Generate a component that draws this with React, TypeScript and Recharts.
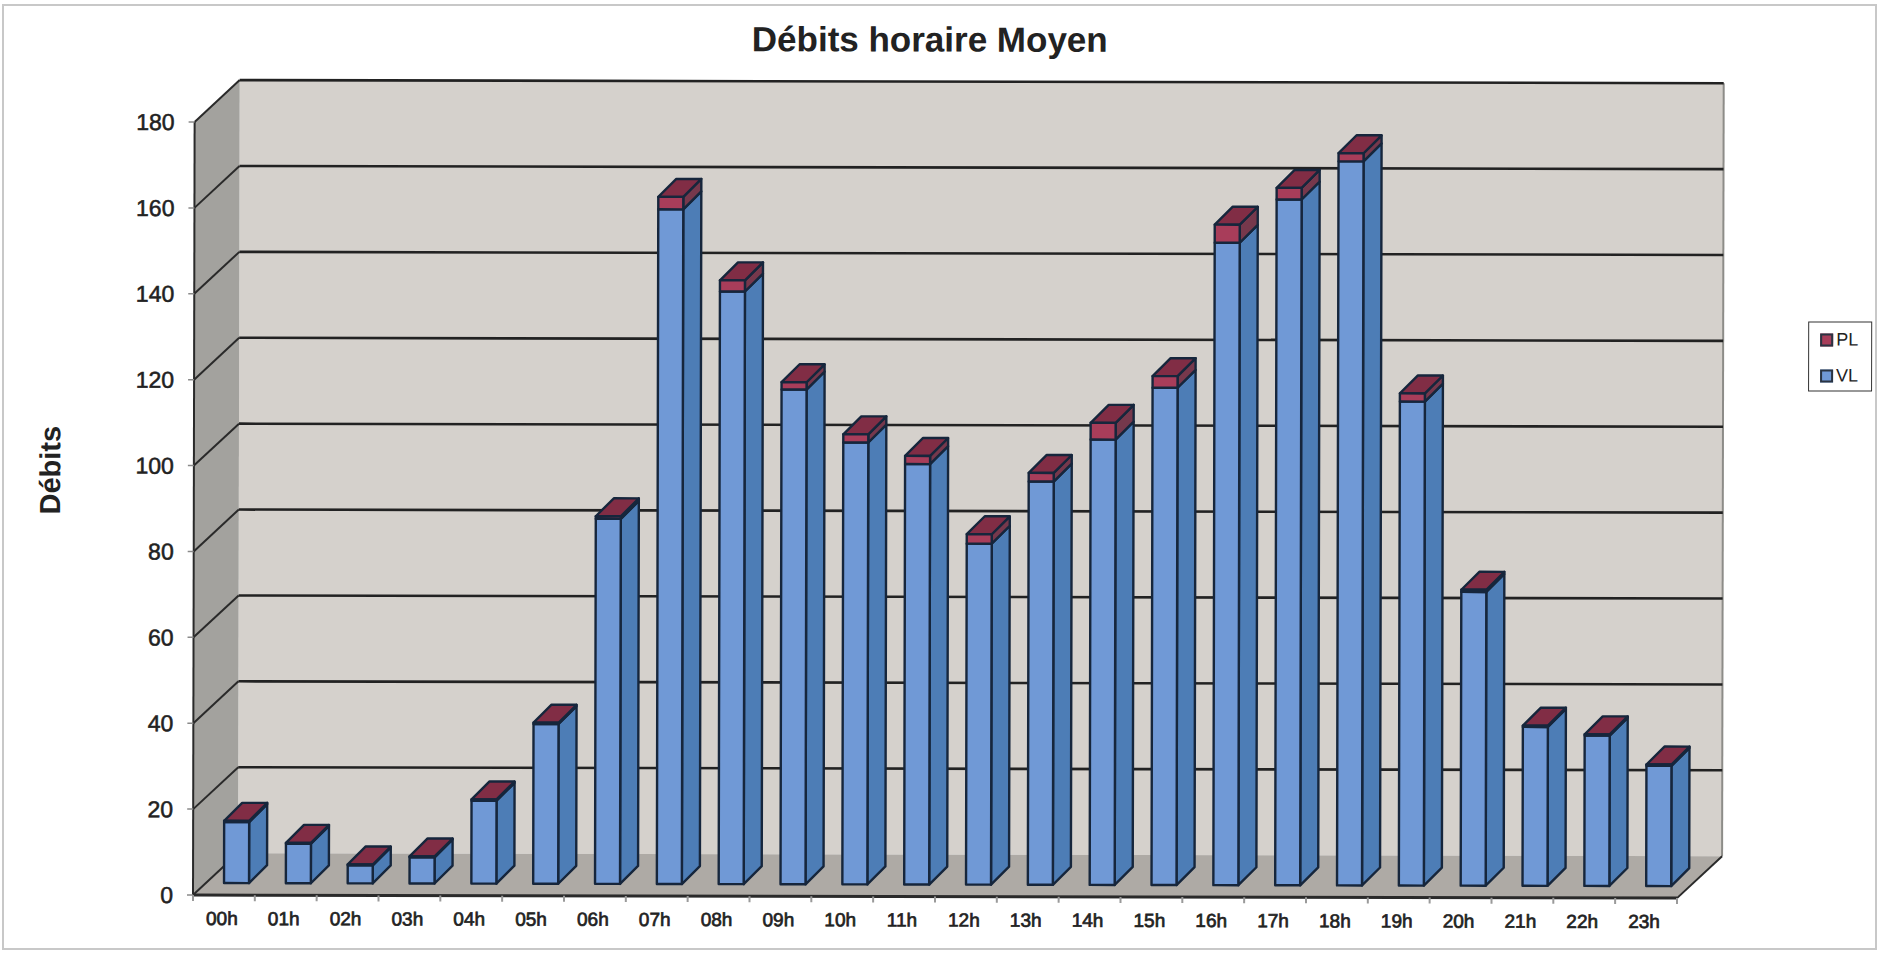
import { BarChart, Bar, XAxis, YAxis, CartesianGrid, Legend, ReferenceArea } from 'recharts';

const hours = ['00h', '01h', '02h', '03h', '04h', '05h', '06h', '07h', '08h', '09h', '10h', '11h', '12h', '13h', '14h', '15h', '16h', '17h', '18h', '19h', '20h', '21h', '22h', '23h'];
const vl = [14.2, 9.2, 4.2, 6.1, 19.3, 37.2, 85, 157.1, 138, 115.2, 102.9, 97.9, 79.4, 93.9, 103.7, 115.8, 149.6, 159.7, 168.6, 112.7, 68.4, 37, 35, 28];
const pl = [0.3, 0.2, 0.2, 0.2, 0.3, 0.3, 0.6, 2.9, 2.6, 1.7, 1.9, 1.9, 2.2, 2, 3.9, 2.7, 4.2, 2.7, 1.9, 1.9, 0.5, 0.3, 0.3, 0.3];
const yTicks = [0, 20, 40, 60, 80, 100, 120, 140, 160, 180];

const chartData = hours.map((hour, i) => ({ hour, VL: vl[i], PL: pl[i] }));

const FONT = '"Liberation Sans", Arial, sans-serif';
const INK = '#222222';
const EDGE = '#16263c';
// 3D look of the old Excel chart
const WALL_DX = 45;
const WALL_DY = 42;
const BAR_SHIFT_X = 13;
const BAR_SHIFT_Y = 12;
const BAR_DX = 18;
const BAR_DY = 18;

function Walls({ x, y, width, height }: any) {
  const bottom = y + height;
  const right = x + width;
  return (
    <g>
      <polygon points={`${x + WALL_DX},${y - WALL_DY} ${right + WALL_DX},${y - WALL_DY} ${right + WALL_DX},${bottom - WALL_DY} ${x + WALL_DX},${bottom - WALL_DY}`} fill="#d5d1cc" />
      <polygon points={`${x},${y} ${x + WALL_DX},${y - WALL_DY} ${x + WALL_DX},${bottom - WALL_DY} ${x},${bottom}`} fill="#a3a29e" />
      <polygon points={`${x},${bottom} ${right},${bottom} ${right + WALL_DX},${bottom - WALL_DY} ${x + WALL_DX},${bottom - WALL_DY}`} fill="#aeaaa5" />
      <line x1={right + WALL_DX} y1={y - WALL_DY} x2={right + WALL_DX} y2={bottom - WALL_DY} stroke="#8d8c88" strokeWidth={2} />
      <line x1={x} y1={y} x2={x} y2={bottom} stroke="#2a2a2a" strokeWidth={2} />
      <line x1={right} y1={bottom} x2={right + WALL_DX} y2={bottom - WALL_DY} stroke="#2a2a2a" strokeWidth={2} />
    </g>
  );
}

function gridLine({ x1, x2, y1, index }: any) {
  return (
    <g key={`grid-${index}`}>
      <line x1={x1} y1={y1} x2={x1 + WALL_DX} y2={y1 - WALL_DY} stroke="#2a2a2a" strokeWidth={2} />
      {y1 < 890 && <line x1={x1 + WALL_DX} y1={y1 - WALL_DY} x2={x2 + WALL_DX} y2={y1 - WALL_DY} stroke="#222222" strokeWidth={2.6} />}
    </g>
  );
}

function makeBox(front: string, side: string, top?: string) {
  return function Box({ x, y, width, height }: any) {
    const fx = x + BAR_SHIFT_X;
    const fy = y - BAR_SHIFT_Y;
    const sideX = fx + width;
    return (
      <g stroke={EDGE} strokeWidth={2.4} strokeLinejoin="round">
        <polygon points={`${sideX},${fy} ${sideX + BAR_DX},${fy - BAR_DY} ${sideX + BAR_DX},${fy + height - BAR_DY} ${sideX},${fy + height}`} fill={side} />
        {top && <polygon points={`${fx},${fy} ${sideX},${fy} ${sideX + BAR_DX},${fy - BAR_DY} ${fx + BAR_DX},${fy - BAR_DY}`} fill={top} />}
        <rect x={fx} y={fy} width={width} height={height} fill={front} />
      </g>
    );
  };
}

const VlBox = makeBox('#7099d6', '#4d7db6');
const PlBox = makeBox('#a83d5a', '#76384c', '#812d45');

function HourTick({ x, y, payload, index }: any) {
  const half = payload.offset ?? 30.9;
  return (
    <g>
      <line x1={x - half} y1={y - 8} x2={x - half} y2={y - 2} stroke="#9a9a9a" strokeWidth={2} />
      {index === hours.length - 1 && <line x1={x + half} y1={y - 8} x2={x + half} y2={y - 2} stroke="#9a9a9a" strokeWidth={2} />}
      <text x={x - 2} y={y + 22} textAnchor="middle" fontFamily={FONT} fontSize={19} fill={INK} stroke={INK} strokeWidth={0.7}>
        {payload.value}
      </text>
    </g>
  );
}

function LegendBox({ payload }: any) {
  return (
    <div style={{ width: 64, height: 70, border: '1.5px solid #333', background: '#fff', boxSizing: 'border-box', fontFamily: FONT, fontSize: 18, color: INK, paddingTop: 4 }}>
      {(payload ?? []).map((item: any) => (
        <div key={item.value} style={{ display: 'flex', alignItems: 'center', height: 27, paddingLeft: 11, marginBottom: 9 }}>
          <span style={{ width: 9, height: 9, marginRight: 3, background: item.color, border: '2px solid #2a3442' }} />
          {item.value}
        </div>
      ))}
    </div>
  );
}

export default function App() {
  return (
    <div style={{ position: 'absolute', left: 0, top: 0, width: 1883, height: 957, background: '#fff', overflow: 'hidden' }}>
      <div style={{ position: 'absolute', left: 2, top: 4, width: 1875, height: 946, border: '2px solid #c8c8c8', boxSizing: 'border-box' }} />
      <div style={{ position: 'absolute', left: 0, top: 0, transform: 'rotate(0.12deg)', transformOrigin: '192px 895px' }}>
        <div style={{ position: 'absolute', left: 0, width: 1856, top: 18, textAlign: 'center', fontFamily: FONT, fontWeight: 700, fontSize: 35, color: INK }}>
          Débits horaire Moyen
        </div>
        <BarChart width={1883} height={957} data={chartData} margin={{ top: 122, right: 206, bottom: 32, left: 133 }} barSize={25}>
          <ReferenceArea y1={0} y2={180} shape={<Walls />} ifOverflow="visible" zIndex={-200} />
          <CartesianGrid vertical={false} horizontal={gridLine} />
          <XAxis dataKey="hour" height={30} tick={<HourTick />} tickLine={false} axisLine={{ stroke: '#2a2a2a', strokeWidth: 3 }} interval={0} />
          <YAxis
            domain={[0, 180]}
            ticks={yTicks}
            width={60}
            tick={{ fontFamily: FONT, fontSize: 23, fill: INK, stroke: INK, strokeWidth: 0.55 }}
            tickLine={{ stroke: '#8a8a8a', strokeWidth: 1.5 }}
            tickSize={6}
            tickMargin={14}
            axisLine={false}
            label={{ value: 'Débits', angle: -90, position: 'insideLeft', dx: -89, dy: -38, style: { fontFamily: FONT, fontWeight: 700, fontSize: 29, fill: INK, textAnchor: 'middle' } }}
          />
          <Legend layout="vertical" align="center" verticalAlign="middle" content={<LegendBox />} wrapperStyle={{ left: 1807, top: 318, width: 64, height: 70 }} />
          <Bar dataKey="VL" stackId="a" fill="#7099d6" shape={VlBox} isAnimationActive={false} />
          <Bar dataKey="PL" stackId="a" fill="#a83d5a" shape={PlBox} isAnimationActive={false} />
        </BarChart>
      </div>
    </div>
  );
}
